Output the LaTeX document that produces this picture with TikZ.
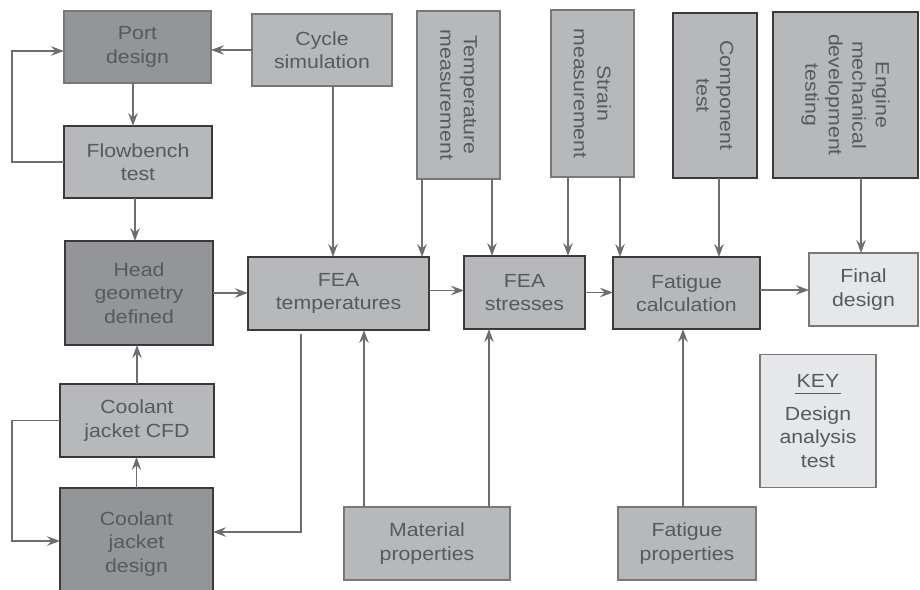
\documentclass[tikz,border=0pt]{standalone}
\usepackage{fontspec}
\setmainfont[FakeStretch=1.12]{Liberation Sans}
\usetikzlibrary{arrows.meta,calc}

\definecolor{darkfill}{HTML}{939598}
\definecolor{midfill}{HTML}{B7B8BA}
\definecolor{lightfill}{HTML}{E6E7E8}
\definecolor{inkgray}{HTML}{58595B}
\definecolor{wiregray}{HTML}{6D6E71}
\definecolor{edgedark}{HTML}{3A3A3C}
\definecolor{edgelight}{HTML}{77787B}

\tikzset{
  blk/.style={rectangle, inner sep=0pt, outer sep=0pt, align=center,
    text=inkgray, font=\fontsize{19}{23.5}\selectfont},
  strong/.style={blk, draw=edgedark, line width=1.4pt},
  soft/.style={blk, draw=edgelight, line width=1.1pt},
  dk/.style={fill=darkfill},
  md/.style={fill=midfill},
  lt/.style={fill=lightfill},
  sz/.style 2 args={minimum width=#1pt, minimum height=#2pt},
  wire/.style={draw=wiregray, line width=1.3pt,
    -{Stealth[length=13pt,width=9.5pt,inset=4.5pt]}},
}

\begin{document}
\begin{tikzpicture}[x=1pt,y=-1pt]
\useasboundingbox (0,0) rectangle (920,589);
\clip (0,0) rectangle (920,589);

% design, analysis and test blocks
\node[soft,dk,sz={147}{72}]   (port)  at (137.5,47)  {Port\\design};
\node[soft,md,sz={140}{72}]   (cyc)   at (322,50)    {Cycle\\simulation};
\node[strong,md,sz={148}{72}] (flow)  at (138,162)   {Flowbench\\test};
\node[strong,dk,sz={148}{104}](head)  at (139,293)   {Head\\geometry\\defined};
\node[strong,md,sz={154}{73}] (cfd)   at (137,420.5) {Coolant\\jacket CFD};
\node[strong,dk,sz={153}{112}](cjd)   at (136.5,544) {Coolant\\jacket\\design};
\node[strong,md,sz={181}{73}] (feat)  at (338.5,293.5) {FEA\\temperatures};
\node[strong,md,sz={121}{73}] (feas)  at (524.5,292.5) {FEA\\stresses};
\node[strong,md,sz={147}{72}] (fatc)  at (686.5,293)   {Fatigue\\calculation};
\node[soft,lt,sz={109}{73}]   (final) at (863.5,289.5) {Final\\design};
\node[soft,md,sz={166}{73}]   (mat)   at (427,543.5) {Material\\properties};
\node[soft,md,sz={138}{73}]   (fatp)  at (687,543.5) {Fatigue\\properties};

% measurement and test inputs (text runs downwards)
\node[soft,md,rotate=-90,sz={168}{83}]   (tm)  at (458.5,95)  {Temperature\\measurement};
\node[soft,md,rotate=-90,sz={167}{83}]   (sm)  at (592.5,93.5) {Strain\\measurement};
\node[strong,md,rotate=-90,sz={165}{84}] (ct)  at (715,95.5)  {Component\\test};
\node[strong,md,rotate=-90,sz={166}{145}](emd) at (845.5,95)  {Engine\\mechanical\\development\\testing};

% key
\node[soft,lt,sz={116}{133}] (key) at (818,421)
  {\underline{\vphantom{g}\kern2pt KEY\kern2pt}\\[9pt]Design\\analysis\\test};

% column positions of the vertical connectors
\coordinate (pf)  at ($(port.south)+(-4.5,0)$);
\coordinate (fh)  at ($(flow.south)+(-3,0)$);
\coordinate (cf)  at ($(cyc.south)+(11,0)$);
\coordinate (tma) at ($(tm.east)+(-36.5,0)$);
\coordinate (tmb) at ($(tm.east)+(33.5,0)$);
\coordinate (sma) at ($(sm.east)+(-24.5,0)$);
\coordinate (smb) at ($(sm.east)+(27.5,0)$);
\coordinate (ctc) at ($(ct.east)+(4,0)$);
\coordinate (emc) at ($(emd.east)+(15.5,0)$);
\coordinate (mta) at ($(mat.north)+(-63,0)$);
\coordinate (mtb) at ($(mat.north)+(62,0)$);
\coordinate (fpc) at ($(fatp.north)+(-4,0)$);
\coordinate (fb)  at ($(feat.south)+(-37.5,4)$);

% port / flowbench loop
\draw[wire] (cyc.west) -- (port.east |- cyc.west);
\draw[wire] (pf) -- (pf |- flow.north);
\draw[wire] (flow.west) -- ++(-52,0) |- ($(port.west)+(0,4)$);
\draw[wire] (fh) -- (fh |- head.north);

% coolant jacket loop
\draw[wire] (cfd.north) -- (cfd.north |- head.south);
\draw[wire] (cjd.north) -- (cjd.north |- cfd.south);
\draw[wire] (cfd.west) -- ++(-48,0) |- ($(cjd.west)+(0,-3)$);

% main chain
\draw[wire] (head.east) -- (feat.west |- head.east);
\draw[wire] ($(feat.east)+(0,-3)$) -- ($(feas.west |- feat.east)+(0,-3)$);
\draw[wire] (feas.east) -- (fatc.west |- feas.east);
\draw[wire] ($(fatc.east)+(0,-3)$) -- ($(final.west |- fatc.east)+(0,-3)$);
\draw[wire] (fb) |- ($(cjd.east)+(0,-12)$);

% inputs from above
\draw[wire] (cf)  -- (cf  |- feat.north);
\draw[wire] (tma) -- (tma |- feat.north);
\draw[wire] (tmb) -- (tmb |- feas.north);
\draw[wire] (sma) -- (sma |- feas.north);
\draw[wire] (smb) -- (smb |- fatc.north);
\draw[wire] (ctc) -- (ctc |- fatc.north);
\draw[wire] (emc) -- (emc |- final.north);

% inputs from below
\draw[wire] (mta) -- (mta |- feat.south);
\draw[wire] (mtb) -- (mtb |- feas.south);
\draw[wire] (fpc) -- (fpc |- fatc.south);
\end{tikzpicture}
\end{document}
